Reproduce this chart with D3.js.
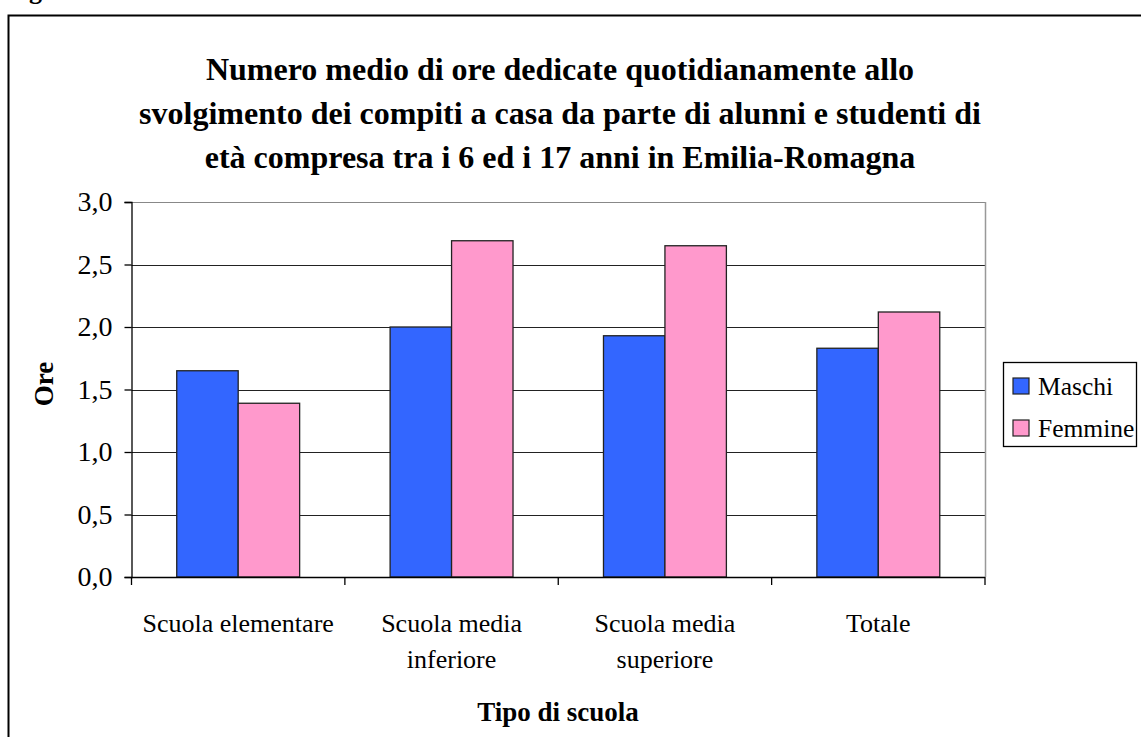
<!DOCTYPE html>
<html>
<head>
<meta charset="utf-8">
<script src="https://cdn.jsdelivr.net/npm/d3@7"></script>
<style>
  body { margin: 0; background: #fff; }
</style>
</head>
<body>
<div id="chart"></div>
<script>
// data
var categories = ["Scuola elementare", "Scuola media inferiore", "Scuola media superiore", "Totale"];
var seriesNames = ["Maschi", "Femmine"];
var maschi = [1.65, 2.0, 1.93, 1.83];
var femmine = [1.39, 2.69, 2.65, 2.12];
var yTicks = [0, 0.5, 1.0, 1.5, 2.0, 2.5, 3.0];
var titleLines = [
  "Numero medio di ore dedicate quotidianamente allo",
  "svolgimento dei compiti a casa da parte di alunni e studenti di",
  "età compresa tra i 6 ed i 17 anni in Emilia-Romagna"
];

var width = 1141, height = 737;
var colors = { "Maschi": "#3366ff", "Femmine": "#ff99cc" };
var serif = "'Liberation Serif', 'Times New Roman', Times, serif";

var svg = d3.select("#chart").append("svg")
    .attr("width", width)
    .attr("height", height)
    .style("font-family", serif);

// outer chart frame (runs off right and bottom edges)
svg.append("rect")
    .attr("x", 8.5).attr("y", 15.5)
    .attr("width", 1200).attr("height", 800)
    .attr("fill", "#fff")
    .attr("stroke", "#000")
    .attr("stroke-width", 2);

// cut off caption letter above the frame
svg.append("text")
    .attr("x", 29).attr("y", -1)
    .attr("font-size", 26)
    .style("font-family", serif)
    .style("font-weight", "700")
    .text("g");

var plot = { left: 131.5, top: 202, right: 985, bottom: 577 };

var x0 = d3.scaleBand()
    .domain(categories)
    .range([plot.left, plot.right])
    .paddingInner(0.424)
    .paddingOuter(0.212);

// full category slots for tick marks
var slot = d3.scaleBand().domain(categories).range([plot.left, plot.right]);

var x1 = d3.scaleBand()
    .domain(seriesNames)
    .range([0, x0.bandwidth()]);

var y = d3.scaleLinear()
    .domain([0, 3])
    .range([plot.bottom, plot.top]);

// gridlines
svg.append("g")
  .selectAll("line")
  .data(yTicks.filter(function(d){ return d > 0; }))
  .enter().append("line")
    .attr("x1", plot.left).attr("x2", plot.right)
    .attr("y1", function(d){ return Math.round(y(d)) + 0.5; })
    .attr("y2", function(d){ return Math.round(y(d)) + 0.5; })
    .attr("stroke", function(d){ return d === 3 ? "#888" : "#222"; })
    .attr("stroke-width", 1.2);

// plot area right border
svg.append("line")
    .attr("x1", plot.right + 0.5).attr("x2", plot.right + 0.5)
    .attr("y1", plot.top).attr("y2", plot.bottom)
    .attr("stroke", "#999").attr("stroke-width", 1.5);

// bars
var table = categories.map(function(c, i){
  return { cat: c, values: [
    { name: "Maschi", v: maschi[i] },
    { name: "Femmine", v: femmine[i] }
  ]};
});

var groups = svg.append("g").selectAll("g")
    .data(table)
    .enter().append("g")
    .attr("transform", function(d){ return "translate(" + x0(d.cat) + ",0)"; });

groups.selectAll("rect")
    .data(function(d){ return d.values; })
    .enter().append("rect")
    .attr("x", function(d){ return x1(d.name); })
    .attr("y", function(d){ return y(d.v); })
    .attr("width", x1.bandwidth())
    .attr("height", function(d){ return y(0) - y(d.v); })
    .attr("fill", function(d){ return colors[d.name]; })
    .attr("stroke", "#222")
    .attr("stroke-width", 1.3);

// y axis
var yAxis = svg.append("g")
    .attr("transform", "translate(" + plot.left + ",0)")
    .call(d3.axisLeft(y)
      .tickValues(yTicks)
      .tickSize(7)
      .tickPadding(12)
      .tickFormat(function(d){ return d3.format(".1f")(d).replace(".", ","); }));
yAxis.attr("font-family", null).attr("font-size", null);
yAxis.select(".domain").attr("stroke", "#000").attr("stroke-width", 1.3);
yAxis.selectAll(".tick line").attr("stroke", "#000").attr("stroke-width", 1.3);
yAxis.selectAll(".tick text")
    .attr("font-size", 28)
    .attr("fill", "#000")
    .style("font-family", serif);

// x axis
var xAxisG = svg.append("g");
xAxisG.append("line")
    .attr("x1", plot.left).attr("x2", plot.right)
    .attr("y1", plot.bottom + 0.5).attr("y2", plot.bottom + 0.5)
    .attr("stroke", "#000").attr("stroke-width", 1.3);
var bounds = categories.map(function(c){ return slot(c); }).concat([plot.right]);
xAxisG.selectAll(".xtick")
    .data(bounds)
    .enter().append("line")
    .attr("class", "xtick")
    .attr("x1", function(d){ return d; }).attr("x2", function(d){ return d; })
    .attr("y1", plot.bottom).attr("y2", plot.bottom + 8)
    .attr("stroke", "#000").attr("stroke-width", 1.3);

var catLabels = xAxisG.selectAll(".xlab")
    .data(categories)
    .enter().append("text")
    .attr("class", "xlab")
    .attr("text-anchor", "middle")
    .attr("font-size", 26)
    .style("font-family", serif)
    .attr("x", function(d){ return slot(d) + slot.bandwidth() / 2; })
    .attr("y", 632);

// wrap category labels like Excel does
catLabels.each(function(d){
  var el = d3.select(this);
  var words = d.split(" ");
  var maxW = slot.bandwidth() - 10;
  var lines = [], line = [];
  var probe = el.append("tspan");
  words.forEach(function(w){
    line.push(w);
    probe.text(line.join(" "));
    if (probe.node().getComputedTextLength() > maxW && line.length > 1) {
      line.pop();
      lines.push(line.join(" "));
      line = [w];
    }
  });
  lines.push(line.join(" "));
  probe.remove();
  lines.forEach(function(t, i){
    el.append("tspan")
      .attr("x", el.attr("x"))
      .attr("dy", i === 0 ? 0 : 36)
      .text(t);
  });
});

// titles
var title = svg.append("g");
titleLines.forEach(function(t, i){
  title.append("text")
    .attr("text-anchor", "middle")
    .attr("font-size", 32)
    .style("font-family", serif)
    .style("font-weight", "700")
    .attr("x", 560)
    .attr("y", 80 + i * 44)
    .text(t);
});

svg.append("text")
    .attr("text-anchor", "middle")
    .attr("font-size", 27)
    .style("font-family", serif)
    .style("font-weight", "700")
    .attr("x", 558).attr("y", 721)
    .text("Tipo di scuola");

svg.append("text")
    .attr("text-anchor", "middle")
    .attr("font-size", 27)
    .style("font-family", serif)
    .style("font-weight", "700")
    .attr("transform", "translate(53,384) rotate(-90)")
    .text("Ore");

// legend
var legend = svg.append("g");
legend.append("rect")
    .attr("x", 1003.5).attr("y", 362.5)
    .attr("width", 133).attr("height", 84)
    .attr("fill", "#fff")
    .attr("stroke", "#000")
    .attr("stroke-width", 1.3);

var items = legend.selectAll(".item")
    .data(seriesNames)
    .enter().append("g")
    .attr("class", "item")
    .attr("transform", function(d, i){ return "translate(1013," + (378 + i * 42) + ")"; });
items.append("rect")
    .attr("width", 16).attr("height", 16)
    .attr("fill", function(d){ return colors[d]; })
    .attr("stroke", "#222")
    .attr("stroke-width", 1.2);
items.append("text")
    .attr("x", 25).attr("y", 17)
    .attr("font-size", 25.5)
    .style("font-family", serif)
    .text(function(d){ return d; });
</script>
</body>
</html>
